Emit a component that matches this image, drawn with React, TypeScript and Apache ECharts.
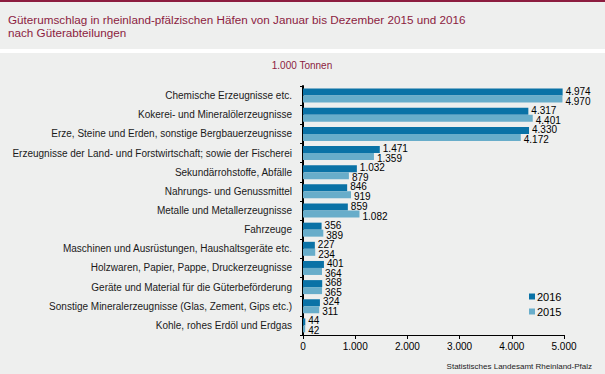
import React, { useEffect, useRef } from "react";
import * as echarts from "echarts";

const categories = [
  "Chemische Erzeugnisse etc.",
  "Kokerei- und Mineralölerzeugnisse",
  "Erze, Steine und Erden, sonstige Bergbauerzeugnisse",
  "Erzeugnisse der Land- und Forstwirtschaft; sowie der Fischerei",
  "Sekundärrohstoffe, Abfälle",
  "Nahrungs- und Genussmittel",
  "Metalle und Metallerzeugnisse",
  "Fahrzeuge",
  "Maschinen und Ausrüstungen, Haushaltsgeräte etc.",
  "Holzwaren, Papier, Pappe, Druckerzeugnisse",
  "Geräte und Material für die Güterbeförderung",
  "Sonstige Mineralerzeugnisse (Glas, Zement, Gips etc.)",
  "Kohle, rohes Erdöl und Erdgas",
];
const values2016 = [4974, 4317, 4330, 1471, 1032, 846, 859, 356, 227, 401, 368, 324, 44];
const values2015 = [4970, 4401, 4172, 1359, 879, 919, 1082, 389, 234, 364, 365, 311, 42];
const xTicks = [0, 1000, 2000, 3000, 4000, 5000];

const fmt = (v: number) => String(v).replace(/\B(?=(\d{3})+(?!\d))/g, ".");

const FONT = "'Liberation Sans', Arial, sans-serif";

export default function App() {
  const ref = useRef<HTMLDivElement>(null);
  useEffect(() => {
    if (!ref.current) return;
    const chart = echarts.init(ref.current, null, { renderer: "svg" });
    chart.setOption({
      animation: false,
      backgroundColor: "#ffffff",
      textStyle: { fontFamily: FONT },
      graphic: [
        { type: "rect", shape: { x: 0, y: 0, width: 605, height: 2 }, style: { fill: "#8c1c3f" }, silent: true },
        { type: "rect", shape: { x: 0, y: 2, width: 605, height: 47 }, style: { fill: "#eeefee" }, silent: true },
        { type: "rect", shape: { x: 0, y: 53, width: 605, height: 321 }, style: { fill: "#eeefee" }, silent: true },
        {
          type: "text", x: 8, y: 19,
          style: { text: "Güterumschlag in rheinland-pfälzischen Häfen von Januar bis Dezember 2015 und 2016", fill: "#8c1c3f", font: `11.7px ${FONT}`, verticalAlign: "middle" },
        },
        {
          type: "text", x: 8, y: 32,
          style: { text: "nach Güterabteilungen", fill: "#8c1c3f", font: `11.7px ${FONT}`, verticalAlign: "middle" },
        },
        {
          type: "text", x: 302, y: 65,
          style: { text: "1.000 Tonnen", fill: "#8c1c3f", font: `10px ${FONT}`, align: "center", verticalAlign: "middle" },
        },
        {
          type: "text", x: 592, y: 366,
          style: { text: "Statistisches Landesamt Rheinland-Pfalz", fill: "#222", font: `8px ${FONT}`, align: "right", verticalAlign: "middle" },
        },
      ],
      legend: {
        orient: "vertical",
        left: 524,
        top: 286,
        itemWidth: 6,
        itemHeight: 6,
        itemGap: 4,
        icon: "rect",
        textStyle: { fontSize: 11, color: "#000", fontFamily: FONT, padding: [0, 0, 0, -3] },
        data: ["2016", "2015"],
      },
      grid: { left: 303, right: 41, top: 86, bottom: 39, containLabel: false },
      xAxis: {
        type: "value",
        min: 0,
        max: 5000,
        interval: 1000,
        axisLine: { show: true, lineStyle: { color: "#000", width: 1 } },
        axisTick: { show: true, length: 4, lineStyle: { color: "#000" } },
        splitLine: { show: false },
        axisLabel: {
          fontSize: 10, color: "#000", fontFamily: FONT, margin: 6,
          formatter: (v: number) => (xTicks.includes(v) ? fmt(v) : ""),
        },
      },
      yAxis: {
        type: "category",
        data: categories,
        inverse: true,
        axisLine: { show: true, lineStyle: { color: "#000", width: 2 } },
        axisTick: { show: true, length: 3, lineStyle: { color: "#000" } },
        axisLabel: { fontSize: 10, color: "#1a1a1a", fontFamily: FONT, margin: 11 },
      },
      series: [
        {
          name: "2016",
          type: "bar",
          data: values2016,
          barWidth: 7,
          barGap: "0%",
          itemStyle: { color: "#0a72a6" },
          label: { show: true, position: "right", distance: 3, fontSize: 10, color: "#000", fontFamily: FONT, formatter: (p: any) => fmt(p.value), offset: [0, -1] },
        },
        {
          name: "2015",
          type: "bar",
          data: values2015,
          barWidth: 7,
          barGap: "0%",
          itemStyle: { color: "#68adca" },
          label: { show: true, position: "right", distance: 3, fontSize: 10, color: "#000", fontFamily: FONT, formatter: (p: any) => fmt(p.value), offset: [0, 2] },
        },
      ],
    });
    return () => chart.dispose();
  }, []);
  return <div ref={ref} style={{ position: "fixed", left: 0, top: 0, width: 605, height: 374 }} />;
}
